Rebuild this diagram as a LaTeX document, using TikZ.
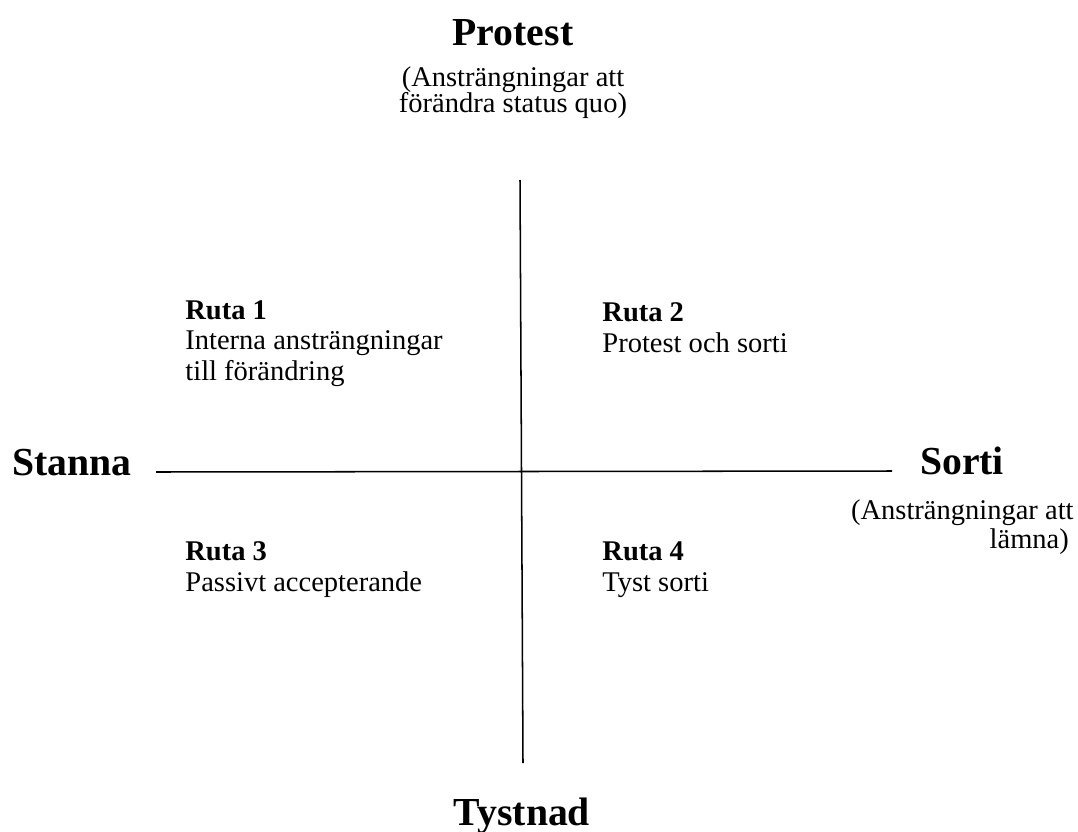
\documentclass[tikz,border=0pt]{standalone}
\usepackage{fontspec}
\setmainfont{Liberation Serif}
\usetikzlibrary{positioning}

\newcommand{\tightlines}{\lineskiplimit=-20pt\relax}

\tikzset{
    axislabel/.style={font=\fontsize{19.5}{22}\selectfont\bfseries, inner sep=0pt},
    axisnote/.style={font=\fontsize{14}{12.5}\selectfont\tightlines, align=center, inner sep=0pt},
    rutatext/.style={font=\fontsize{14}{14.8}\selectfont, align=left, inner sep=0pt, anchor=base west},
    axisline/.style={line width=0.75pt}
}

\begin{document}
\begin{tikzpicture}[x=0.01726cm, y=-0.01726cm]
    \useasboundingbox (0,0) rectangle (1078,831);

    % axis ends
    \coordinate (top) at (520,180);
    \coordinate (bottom) at (523,763);
    \coordinate (left) at (156,472);
    \coordinate (right) at (892,471);

    \draw[axisline] (top) -- (bottom);
    \draw[axisline] (left) -- (right);

    % labels at the four ends (base = last line)
    \node[axislabel, anchor=base] (protest) at (513,45) {Protest};
    \node[axisnote, anchor=base] (protestnote) at (513,112)
        {(Ansträngningar att\\förändra status quo)};
    \node[axislabel, anchor=base] (stanna) at (72,475) {Stanna};
    \node[axislabel, anchor=base] (sorti) at (962,474) {Sorti};
    \node[axisnote, font=\fontsize{14}{13.8}\selectfont, align=right,
        anchor=base east] (sortinote) at (1074,548)
        {(Ansträngningar att\\lämna)\,};
    \node[axislabel, anchor=base] (tystnad) at (522,825) {Tystnad};

    % the four boxes
    \node[rutatext] (ruta1) at (185,380)
        {\textbf{Ruta 1}\\Interna ansträngningar\\till förändring};
    \node[rutatext] (ruta2) at (602,352)
        {\textbf{Ruta 2}\\Protest och sorti};
    \node[rutatext] (ruta3) at (185,591)
        {\textbf{Ruta 3}\\Passivt accepterande};
    \node[rutatext] (ruta4) at (602,591)
        {\textbf{Ruta 4}\\Tyst sorti};

\end{tikzpicture}
\end{document}
